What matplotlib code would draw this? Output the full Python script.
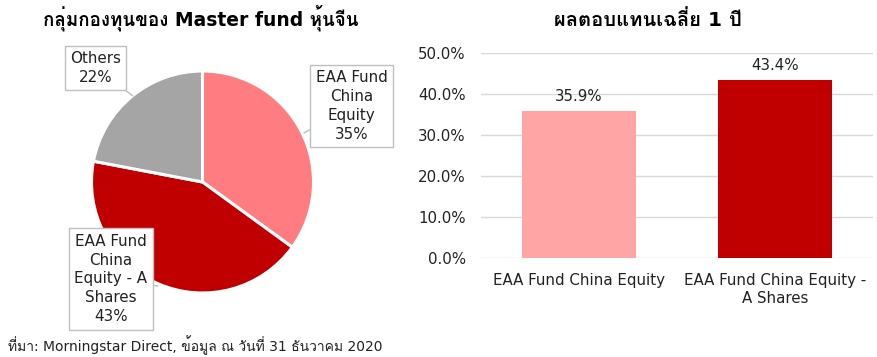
import matplotlib
matplotlib.use('Agg')
import matplotlib.pyplot as plt
from matplotlib.ticker import PercentFormatter

plt.rcParams['font.family'] = ['DejaVu Sans', 'Loma']
plt.rcParams['text.color'] = '#222222'

# ข้อมูล
pie_labels = ['EAA Fund\nChina\nEquity', 'EAA Fund\nChina\nEquity - A\nShares', 'Others']
pie_values = [35, 43, 22]
pie_colors = ['#FF7C80', '#C00000', '#A5A5A5']

bar_labels = ['EAA Fund China Equity', 'EAA Fund China Equity -\nA Shares']
bar_values = [0.359, 0.434]
bar_colors = ['#FFA5A5', '#C00000']

W, H = 877, 357
fig = plt.figure(figsize=(W / 100, H / 100), dpi=100)

# ---- pie ----
cx, cy, r = 202.5, 182, 111
ax1 = fig.add_axes([(cx - r) / W, 1 - (cy + r) / H, 2 * r / W, 2 * r / H])
wedges, _ = ax1.pie(pie_values, colors=pie_colors, startangle=90, counterclock=False,
                    radius=1, wedgeprops=dict(edgecolor='white', linewidth=2.2))
ax1.set_xlim(-1, 1)
ax1.set_ylim(-1, 1)

def px(x, y):
    return ((x - cx) / r, (cy - y) / r)

box = dict(boxstyle='square,pad=0.35', facecolor='white', edgecolor='#BFBFBF', linewidth=1)
# (ตำแหน่งป้าย, จุดบนขอบวงกลม) เป็นพิกเซล
label_pos = [((351.5, 106), (304, 133)), ((111, 279), (158, 286)), ((95.5, 68), (133, 96))]
for lab, val, (tp, ep) in zip(pie_labels, pie_values, label_pos):
    ax1.annotate(f'{lab}\n{val}%', xy=px(*ep), xytext=px(*tp), ha='center', va='center',
                 fontsize=10.9, linespacing=1.33, bbox=box, annotation_clip=False,
                 arrowprops=dict(arrowstyle='-', color='#BFBFBF', lw=1, shrinkA=0, shrinkB=0))

fig.text(201 / W, 1 - 18 / H, 'กลุ่มกองทุนของ Master fund หุ้นจีน', ha='center', va='center',
         fontsize=13.5, fontweight='bold', color='black')

# ---- bars ----
ax2 = fig.add_axes([481 / W, 1 - 258 / H, 392 / W, 205 / H])
x = range(len(bar_values))
ax2.bar(x, bar_values, width=0.58, color=bar_colors, zorder=3)
for i, v in enumerate(bar_values):
    ax2.annotate(f'{v * 100:.1f}%', (i, v), xytext=(0, 5), textcoords='offset points',
                 ha='center', va='bottom', fontsize=10.8)
ax2.set_xlim(-0.5, 1.5)
ax2.set_ylim(0, 0.5)
ax2.set_yticks([0, 0.1, 0.2, 0.3, 0.4, 0.5])
ax2.yaxis.set_major_formatter(PercentFormatter(1.0, decimals=1))
ax2.set_xticks(list(x))
ax2.set_xticklabels(bar_labels)
ax2.tick_params(axis='both', length=0, labelsize=10.8, labelcolor='#222222')
ax2.tick_params(axis='y', pad=11)
ax2.tick_params(axis='x', pad=11)
ax2.grid(axis='y', color='#D9D9D9', linewidth=1, zorder=0)
for s in ax2.spines.values():
    s.set_visible(False)

fig.text(648 / W, 1 - 20 / H, 'ผลตอบแทนเฉลี่ย 1 ปี', ha='center', va='center',
         fontsize=14.5, fontweight='bold', color='black')

fig.text(8 / W, 1 - 345 / H, 'ที่มา: Morningstar Direct, ข้อมูล ณ วันที่ 31 ธันวาคม 2020',
         ha='left', va='center', fontsize=10)

fig.savefig('out.png', dpi=100)
